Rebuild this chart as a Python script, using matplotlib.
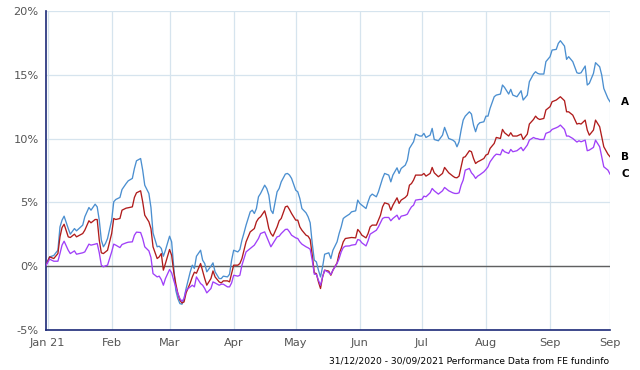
import datetime as dt
import matplotlib
matplotlib.use("Agg")
import matplotlib.pyplot as plt

# ---- data (day offset from 31/12/2020, cumulative performance in %) ----
start_date = dt.date(2020, 12, 31)
end_date = dt.date(2021, 9, 30)

day = [0, 2, 4, 6, 7, 8, 9, 11, 12, 14, 15, 18, 19, 21, 22, 24, 25, 26, 27, 28, 29, 30, 32, 33, 34, 36, 37, 39, 40, 42, 43, 44, 46,
       47, 48, 50, 51, 52, 54, 55, 56, 57, 58, 60, 61, 62, 63, 64, 65, 66, 67, 68, 70, 71, 72, 73, 75, 76, 77, 78, 80, 81, 82, 84, 85, 86, 88, 89, 90, 91,
       93, 94, 95, 96, 97, 99, 100, 101, 102, 103, 104, 106, 107, 108, 109, 110, 112, 113, 114, 116, 117, 118, 119, 121, 122, 123, 124, 126, 127, 128, 129, 130, 131, 132, 133, 134, 135,
       137, 138, 139, 141, 142, 143, 144, 145, 147, 148, 150, 151, 152, 153, 155, 156, 157, 158, 160, 161, 162, 163, 164, 166, 167, 168, 170, 171, 172, 174, 175, 176, 177, 178, 179, 181, 182,
       183, 184, 186, 187, 188, 190, 192, 193, 195, 197, 198, 199, 200, 201, 202, 203, 205, 206, 207, 208, 209, 210, 212, 213, 214, 215, 217, 218, 220, 221, 222, 224, 225, 226, 228,
       230, 231, 233, 234, 236, 237, 238, 239, 241, 242, 244, 245, 247, 248, 249, 251, 252, 253, 255, 257, 258, 259, 261, 262, 263, 265, 266, 268, 269, 270, 272, 273]

series_A = [0.0, 0.73, 0.84, 1.25, 3.08, 3.61, 3.92, 2.95, 2.51, 2.95, 2.77, 3.22, 3.87, 4.60, 4.39, 4.86, 4.65, 3.61, 2.04, 1.52, 1.78, 2.17, 3.61, 5.05, 5.23, 5.39, 6.01, 6.48, 6.69, 6.88, 7.66, 8.26, 8.44,
            7.53, 6.35, 5.70, 4.60, 2.60, 1.52, 1.57, 1.39, 0.78, 1.25, 2.35, 1.91, -0.05, -1.88, -2.54, -2.93, -2.98, -2.54, -1.75, -0.44, 0.08, -0.18, 0.78, 1.25, 0.47, 0.21, -0.44, 0.0, 0.26, -0.44, -0.97, -0.97, -0.78, -0.84, -0.63, 0.47, 1.25,
            1.12, 1.31, 2.04, 2.61, 3.22, 4.26, 4.39, 4.13, 4.52, 5.44, 5.70, 6.35, 6.09, 5.57, 4.39, 4.13, 5.83, 6.09, 6.61, 7.22, 7.27, 7.14, 6.88, 5.96, 5.83, 5.31, 4.52, 4.18, 3.87, 3.40, 1.78, 0.47, 0.34, -0.31, -0.84, -0.05, 0.94,
            1.05, 0.60, 1.25, 1.91, 2.56, 3.08, 3.74, 3.87, 4.08, 4.26, 4.34, 5.18, 4.92, 4.78, 4.52, 5.05, 5.49, 5.65, 5.44, 5.83, 6.35, 6.88, 7.27, 7.14, 6.61, 7.14, 7.71, 7.27, 7.66, 7.92, 8.31, 9.23, 9.49, 9.75, 10.35, 10.20, 10.20,
            10.41, 10.09, 10.27, 10.80, 9.93, 9.83, 10.27, 10.88, 10.01, 9.88, 9.75, 9.36, 9.75, 10.67, 11.45, 11.76, 12.10, 11.92, 11.06, 10.54, 11.06, 11.24, 11.32, 11.76, 11.76, 12.37, 13.28, 13.41, 13.49, 14.20, 14.01, 13.49, 13.86, 13.41, 13.28,
            13.75, 13.02, 13.41, 14.46, 15.06, 15.24, 15.11, 15.06, 15.06, 16.03, 16.42, 16.94, 16.99, 17.46, 17.67, 17.25, 16.21, 16.42, 16.03, 15.16, 15.11, 15.16, 15.69, 14.20, 14.33, 15.11, 15.95, 15.63, 14.98, 13.93, 13.15, 12.89]

series_B = [0.0, 0.73, 0.60, 0.99, 2.30, 3.03, 3.29, 2.30, 2.25, 2.51, 2.30, 2.56, 2.82, 3.56, 3.40, 3.66, 3.66, 2.04, 1.05, 0.99, 1.12, 1.25, 2.56, 3.74, 3.66, 3.74, 4.39, 4.55, 4.58, 4.65, 5.39, 5.75, 5.91,
            5.05, 4.00, 3.48, 2.95, 1.52, 0.60, 0.73, 0.99, -0.31, 0.21, 1.31, 0.86, -0.44, -1.36, -2.14, -2.67, -2.88, -2.80, -2.09, -1.31, -0.84, -0.47, -0.55, 0.21, -0.37, -0.97, -1.49, -0.97, -0.37, -0.84, -1.23, -1.31, -1.15, -1.15, -1.23, -0.58, 0.08,
            0.08, 0.21, 0.60, 1.25, 1.91, 2.69, 2.82, 2.95, 3.48, 3.74, 3.87, 4.34, 3.74, 2.95, 2.56, 2.35, 3.08, 3.56, 3.74, 4.65, 4.71, 4.44, 4.13, 3.61, 3.61, 3.08, 2.82, 2.43, 2.35, 2.09, 0.86, -0.52, -0.58, -1.23, -1.75, -0.84, -0.31,
            -0.39, -0.71, -0.31, 0.26, 0.99, 1.39, 1.91, 2.17, 2.22, 2.25, 2.22, 2.88, 2.69, 2.43, 2.22, 2.56, 3.08, 3.22, 3.22, 3.61, 4.00, 4.65, 4.97, 4.86, 4.39, 4.78, 5.36, 4.92, 5.18, 5.39, 5.57, 6.35, 6.48, 6.75, 7.14, 7.14, 7.14,
            7.27, 7.06, 7.27, 7.74, 7.32, 7.01, 7.27, 7.74, 7.32, 7.06, 6.95, 6.93, 7.06, 7.79, 8.52, 8.58, 9.05, 8.97, 8.44, 8.05, 8.18, 8.26, 8.44, 8.71, 8.78, 9.23, 9.62, 10.09, 10.01, 10.72, 10.46, 10.20, 10.46, 10.20, 10.20,
            10.35, 9.93, 10.35, 11.14, 11.50, 11.76, 11.58, 11.50, 11.58, 12.24, 12.50, 12.89, 13.02, 13.15, 13.28, 12.97, 12.10, 12.10, 11.84, 11.14, 11.19, 11.14, 11.45, 10.67, 10.27, 10.67, 11.45, 10.93, 10.14, 9.36, 8.78, 8.58]

series_C = [0.0, 0.55, 0.39, 0.39, 0.99, 1.65, 1.96, 1.25, 0.99, 1.20, 0.94, 1.05, 1.12, 1.73, 1.65, 1.73, 1.78, 1.05, 0.08, -0.05, 0.03, 0.08, 1.12, 1.73, 1.65, 1.46, 1.70, 1.83, 1.88, 1.91, 2.43, 2.67, 2.64,
            2.17, 1.52, 1.20, 0.68, -0.58, -0.84, -0.78, -1.05, -1.49, -0.97, -0.26, -0.52, -1.10, -1.62, -2.14, -2.54, -2.75, -2.54, -1.88, -1.62, -1.49, -1.62, -0.84, -1.36, -1.49, -1.75, -2.09, -1.75, -1.23, -1.31, -1.49, -1.41, -1.41, -1.62, -1.62, -1.31, -0.71,
            -0.78, -0.71, 0.08, 0.60, 1.12, 1.39, 1.52, 1.65, 1.91, 2.17, 2.56, 2.69, 2.30, 1.91, 1.52, 1.78, 2.30, 2.35, 2.56, 2.88, 2.90, 2.69, 2.43, 2.22, 2.17, 1.91, 1.73, 1.52, 1.44, 1.33, 0.47, -0.63, -0.63, -1.10, -1.49, -0.84, -0.31,
            -0.50, -0.65, -0.31, 0.21, 0.60, 1.12, 1.46, 1.57, 1.59, 1.65, 1.70, 2.09, 2.04, 1.83, 1.59, 1.99, 2.51, 2.61, 2.82, 3.08, 3.42, 3.74, 3.82, 3.82, 3.56, 3.74, 4.00, 3.66, 3.92, 4.00, 4.08, 4.39, 4.65, 4.78, 5.18, 5.23, 5.23,
            5.49, 5.44, 5.75, 6.09, 5.91, 5.65, 5.91, 6.17, 5.91, 5.75, 5.70, 5.70, 5.75, 6.35, 6.75, 7.53, 7.66, 7.32, 7.14, 6.88, 7.06, 7.16, 7.40, 7.58, 7.79, 8.18, 8.63, 8.78, 8.73, 9.15, 8.97, 8.84, 9.15, 8.97, 9.05,
            9.31, 9.05, 9.49, 9.88, 10.09, 10.01, 9.99, 9.93, 9.93, 10.41, 10.54, 10.72, 10.85, 10.93, 11.06, 10.72, 10.20, 10.20, 10.01, 9.73, 9.83, 9.75, 9.88, 9.05, 9.10, 9.31, 9.88, 9.36, 8.58, 7.79, 7.53, 7.22]

series_names = ["A", "B", "C"]
series_colors = ["#4b8fd0", "#b01c1c", "#a040f8"]

tick_dates = [dt.date(2021, 1, 1), dt.date(2021, 2, 1), dt.date(2021, 3, 1), dt.date(2021, 4, 1),
              dt.date(2021, 5, 1), dt.date(2021, 6, 1), dt.date(2021, 7, 1), dt.date(2021, 8, 1),
              dt.date(2021, 9, 1), dt.date(2021, 9, 30)]
tick_labels = ["Jan 21", "Feb", "Mar", "Apr", "May", "Jun", "Jul", "Aug", "Sep", "Sep"]
y_ticks = [-5, 0, 5, 10, 15, 20]
footer = "31/12/2020 - 30/09/2021 Performance Data from FE fundinfo"

# ---- figure ----
dates = [start_date + dt.timedelta(days=d) for d in day]

fig = plt.figure(figsize=(6.4, 3.7), dpi=100)
ax = fig.add_axes([45.5 / 640, 1 - 330 / 370, (610 - 45.5) / 640, (330 - 11) / 370])

grid_col = "#d6e4ee"
for t in tick_dates:
    ax.axvline(t, color=grid_col, lw=0.9, zorder=0)
for yv in y_ticks:
    ax.axhline(yv, color=grid_col, lw=0.9, zorder=0)
ax.axhline(0, color="#606060", lw=1.0, zorder=1)

for name, vals, col in zip(series_names, [series_A, series_B, series_C], series_colors):
    ax.plot(dates, vals, color=col, lw=0.95, zorder=3)
    ax.annotate(name, xy=(dates[-1], vals[-1]), xytext=(8, 0), textcoords="offset points",
                ha="left", va="center", fontsize=7.5, fontweight="bold", color="black",
                annotation_clip=False)

ax.set_xlim(start_date, end_date)
ax.set_ylim(-5, 20)
ax.set_xticks(tick_dates)
ax.set_xticklabels(tick_labels)
ax.set_yticks(y_ticks)
ax.set_yticklabels([f"{v}%" for v in y_ticks])
ax.tick_params(axis="both", length=0, labelsize=8.2, labelcolor="#555555")
ax.tick_params(axis="x", pad=6)
ax.tick_params(axis="y", pad=5)

for s in ["top", "right"]:
    ax.spines[s].set_visible(False)
ax.spines["left"].set_color("#1c2a78")
ax.spines["bottom"].set_color("#1c2a78")
ax.spines["left"].set_linewidth(1.2)
ax.spines["bottom"].set_linewidth(1.2)

fig.text(609 / 640, 1 - 361.5 / 370, footer, ha="right", va="center", fontsize=6.6, color="black")

fig.savefig("out.png", dpi=100)
